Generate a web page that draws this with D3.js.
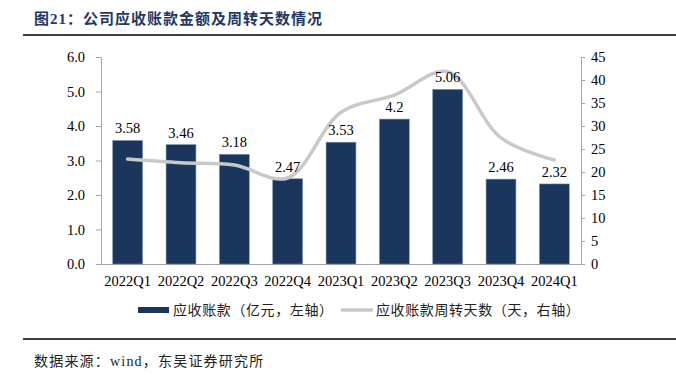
<!doctype html>
<html lang="zh">
  <head>
    <meta charset="utf-8">
    <title>图21</title>
    <script src="https://cdn.jsdelivr.net/npm/d3@7"></script>
    <style>
      body { margin: 0; background: #fff; }
      text { font-family: "Liberation Serif", "Times New Roman", "Noto Sans CJK SC", serif; }
    </style>
  </head>
  <body>
    <script>
      const quarters = ["2022Q1", "2022Q2", "2022Q3", "2022Q4", "2023Q1", "2023Q2", "2023Q3", "2023Q4", "2024Q1"];
      const receivables = [3.58, 3.46, 3.18, 2.47, 3.53, 4.2, 5.06, 2.46, 2.32];
      const turnoverDays = [22.8, 22.0, 21.5, 18.7, 33.0, 36.7, 41.8, 27.4, 22.6];
      const leftTicks = [0, 1, 2, 3, 4, 5, 6];
      const rightTicks = [0, 5, 10, 15, 20, 25, 30, 35, 40, 45];

      const w = 676, h = 375;
      const plotL = 101, plotR = 581, plotT = 57, plotB = 264;
      const barColor = "#1b365d";
      const lineColor = "#c9c9c9";
      const axisColor = "#a6a6a6";

      const svg = d3.select("body").append("svg")
        .attr("width", w).attr("height", h);

      // title + rules
      svg.append("text")
        .attr("x", 34).attr("y", 24)
        .attr("fill", "#1f3864")
        .attr("font-size", 15).attr("font-weight", "bold")
        .attr("letter-spacing", 1)
        .text("图21：公司应收账款金额及周转天数情况");
      svg.append("line").attr("x1", 23).attr("x2", 676).attr("y1", 35).attr("y2", 35)
        .attr("stroke", "#000").attr("stroke-width", 1.5);
      svg.append("line").attr("x1", 23).attr("x2", 676).attr("y1", 339).attr("y2", 339)
        .attr("stroke", "#000").attr("stroke-width", 1.5);
      svg.append("text")
        .attr("x", 34).attr("y", 366)
        .attr("font-size", 14).attr("fill", "#222")
        .attr("letter-spacing", 1.2)
        .text("数据来源：wind，东吴证券研究所");

      const x = d3.scaleBand().domain(quarters).range([plotL, plotR]).paddingInner(0.44).paddingOuter(0.22);
      const yL = d3.scaleLinear().domain([0, 6]).range([plotB, plotT]);
      const yR = d3.scaleLinear().domain([0, 45]).range([plotB, plotT]);

      const styleAxis = g => {
        g.attr("font-family", null);
        g.select(".domain").attr("stroke", axisColor);
        g.selectAll(".tick line").attr("stroke", axisColor);
        g.selectAll(".tick text").attr("fill", "#000").attr("font-size", 14.5);
      };

      svg.append("g")
        .attr("transform", "translate(" + plotL + ",0)")
        .call(d3.axisLeft(yL).tickValues(leftTicks).tickFormat(d3.format(".1f")).tickSize(5).tickPadding(11).tickSizeOuter(0))
        .call(styleAxis);

      svg.append("g")
        .attr("transform", "translate(" + plotR + ",0)")
        .call(d3.axisRight(yR).tickValues(rightTicks).tickSize(4).tickPadding(6).tickSizeOuter(0))
        .call(styleAxis);

      svg.append("g")
        .attr("transform", "translate(0," + plotB + ")")
        .call(d3.axisBottom(x).tickSize(0).tickPadding(12))
        .call(styleAxis);

      svg.selectAll("rect.bar")
        .data(quarters)
        .enter().append("rect")
        .attr("class", "bar")
        .attr("x", d => x(d))
        .attr("width", x.bandwidth())
        .attr("y", (d, i) => yL(receivables[i]))
        .attr("height", (d, i) => plotB - yL(receivables[i]))
        .attr("fill", barColor)
        .attr("stroke", "#7d90aa")
        .attr("stroke-width", 0.6);

      const line = d3.line()
        .x((d, i) => x(quarters[i]) + x.bandwidth() / 2)
        .y(d => yR(d))
        .curve(d3.curveCatmullRom.alpha(0.5));

      svg.append("path")
        .datum(turnoverDays)
        .attr("d", line)
        .attr("fill", "none")
        .attr("stroke", lineColor)
        .attr("stroke-width", 3.5)
        .attr("stroke-linecap", "round");

      svg.selectAll("text.lbl")
        .data(quarters)
        .enter().append("text")
        .attr("class", "lbl")
        .attr("x", d => x(d) + x.bandwidth() / 2)
        .attr("y", (d, i) => yL(receivables[i]) - 7)
        .attr("text-anchor", "middle")
        .attr("font-size", 14.5)
        .text((d, i) => receivables[i]);

      // legend
      const lg = svg.append("g").attr("font-size", 14).attr("letter-spacing", 0.6).attr("fill", "#222");
      lg.append("rect").attr("x", 138).attr("y", 307).attr("width", 31).attr("height", 6).attr("fill", barColor);
      lg.append("text").attr("x", 173).attr("y", 315).text("应收账款（亿元，左轴）");
      lg.append("line").attr("x1", 341).attr("x2", 373).attr("y1", 310).attr("y2", 310)
        .attr("stroke", lineColor).attr("stroke-width", 3.5);
      lg.append("text").attr("x", 376).attr("y", 315).text("应收账款周转天数（天，右轴）");
    </script>
  </body>
</html>
